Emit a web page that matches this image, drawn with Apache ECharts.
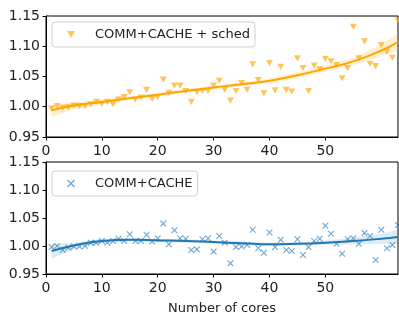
<!DOCTYPE html>
<html>
<head>
<meta charset="utf-8">
<script src="https://cdn.jsdelivr.net/npm/echarts@6/dist/echarts.min.js"></script>
<style>
  html, body { margin: 0; padding: 0; background: #fff; }
  #main { width: 399px; height: 316px; }
</style>
</head>
<body>
<div id="main"></div>
<script>
  // 核数
  var cores = [1,2,3,4,5,6,7,8,9,10,11,12,13,14,15,16,17,18,19,20,21,22,23,24,25,26,27,28,29,30,31,32,
    33,34,35,36,37,38,39,40,41,42,43,44,45,46,47,48,49,50,51,52,53,54,55,56,57,58,59,60,61,62,63];

  // COMM+CACHE + sched 散点
  var schedVals = [0.997,1.001,0.998,0.999,1.002,1.001,1.001,1.004,1.008,1.005,1.008,1.004,1.012,1.016,1.024,1.012,
    1.015,1.028,1.013,1.016,1.045,1.023,1.035,1.035,1.026,1.008,1.024,1.026,1.026,1.035,1.043,1.028,
    1.010,1.026,1.039,1.028,1.070,1.044,1.022,1.072,1.027,1.066,1.028,1.025,1.080,1.064,1.026,1.068,
    1.062,1.079,1.075,1.069,1.047,1.064,1.132,1.080,1.108,1.071,1.067,1.102,1.091,1.081,1.143];

  // COMM+CACHE 散点
  var cacheVals = [0.998,1.000,0.993,0.997,0.999,0.999,1.000,1.006,1.006,1.009,1.006,1.009,1.013,1.009,1.021,1.009,
    1.009,1.020,1.008,1.014,1.040,1.003,1.028,1.014,1.013,0.993,0.994,1.012,1.014,0.990,1.018,1.006,
    0.969,0.998,0.999,1.002,1.029,0.996,0.988,1.024,0.998,1.011,0.993,0.991,1.012,0.984,0.998,1.009,
    1.013,1.036,1.022,1.004,0.986,1.012,1.014,1.004,1.023,1.018,0.975,1.029,0.996,1.002,1.037];

  // 拟合曲线及置信区间
  var fitX = [1,5,10,15,20,25,30,35,40,45,50,55,60,63];
  var schedFit = [0.994,1.002,1.008,1.014,1.020,1.026,1.032,1.037,1.043,1.052,1.063,1.075,1.093,1.107];
  var schedLo  = [0.983,0.996,1.004,1.011,1.017,1.023,1.029,1.034,1.039,1.047,1.058,1.069,1.083,1.093];
  var schedHi  = [1.003,1.007,1.012,1.017,1.023,1.029,1.035,1.040,1.047,1.057,1.068,1.081,1.103,1.121];
  var cacheFit = [0.991,1.001,1.009,1.011,1.010,1.009,1.007,1.005,1.003,1.004,1.006,1.009,1.013,1.016];
  var cacheLo  = [0.977,0.995,1.005,1.008,1.007,1.006,1.004,1.002,1.000,1.001,1.002,1.003,1.004,1.003];
  var cacheHi  = [1.003,1.006,1.013,1.014,1.013,1.012,1.010,1.008,1.006,1.007,1.010,1.015,1.022,1.029];

  var xTicks = [0, 10, 20, 30, 40, 50, 60];
  var yTicks = [0.95, 1.00, 1.05, 1.10, 1.15];

  var ORANGE = '#ffa500';
  var BLUE = '#1f77b4';
  var FONT = 'DejaVu Sans';
  var triDown = 'path://M0,0 L10,0 L5,8.7 Z';
  var cross = 'path://M0,1.2 L1.2,0 L5,3.8 L8.8,0 L10,1.2 L6.2,5 L10,8.8 L8.8,10 L5,6.2 L1.2,10 L0,8.8 L3.8,5 Z';

  function pairs(xs, ys) {
    return xs.map(function(x, i) { return [x, ys[i]] })
  }

  // 置信区间多边形
  function band(lo, hi, color, idx) {
    return {
      type: 'custom',
      xAxisIndex: idx,
      yAxisIndex: idx,
      silent: true,
      z: 1,
      data: [[fitX[0], lo[0]]],
      renderItem: function(params, api) {
        var pts = [];
        for (var i = 0; i < fitX.length; i++) pts.push(api.coord([fitX[i], lo[i]]));
        for (var j = fitX.length - 1; j >= 0; j--) pts.push(api.coord([fitX[j], hi[j]]));
        return { type: 'polygon', shape: { points: pts }, style: { fill: color } };
      }
    }
  }

  function xAxis(idx, withName) {
    var ax = {
      type: 'value', gridIndex: idx, min: 0, max: 63, interval: 10,
      axisLine: { show: true, onZero: false, lineStyle: { color: '#000', width: 1 } },
      axisTick: { show: true, length: 3.5, lineStyle: { color: '#000' }, customValues: xTicks },
      axisLabel: { color: '#222', fontFamily: FONT, fontSize: 14, margin: 7,
        customValues: xTicks, showMaxLabel: false },
      splitLine: { show: false }
    };
    if (withName) {
      ax.name = 'Number of cores';
      ax.nameLocation = 'middle';
      ax.nameGap = 28;
      ax.nameTextStyle = { color: '#222', fontFamily: FONT, fontSize: 13 };
    }
    return ax
  }

  function yAxis(idx) {
    return {
      type: 'value', gridIndex: idx, min: 0.95, max: 1.15, interval: 0.05,
      axisLine: { show: true, lineStyle: { color: '#000', width: 1 } },
      axisTick: { show: true, length: 3.5, lineStyle: { color: '#000' } },
      axisLabel: { color: '#222', fontFamily: FONT, fontSize: 14, margin: 6,
        formatter: function(v) { return v.toFixed(2) } },
      splitLine: { show: false }
    }
  }

  var legendBase = {
    orient: 'vertical', left: 52, itemWidth: 8, itemHeight: 8,
    padding: [6, 5, 6, 15],
    backgroundColor: '#fff', borderColor: '#d0d0d0', borderWidth: 1, borderRadius: 3,
    textStyle: { color: '#222', fontFamily: FONT, fontSize: 13, padding: [0, 0, 0, 15] }
  };

  var chart = echarts.init(document.getElementById('main'));
  var option = {
    animation: false,
    grid: [
      { left: 46, top: 16, right: 1, height: 121, show: true, borderColor: '#000', borderWidth: 1 },
      { left: 46, top: 162, right: 1, height: 121, show: true, borderColor: '#000', borderWidth: 1 }
    ],
    legend: [
      Object.assign({}, legendBase, { top: 22, data: [{ name: 'COMM+CACHE + sched', icon: triDown }] }),
      Object.assign({}, legendBase, { top: 171, data: [{ name: 'COMM+CACHE', icon: cross }] })
    ],
    xAxis: [xAxis(0, false), xAxis(1, true)],
    yAxis: [yAxis(0), yAxis(1)],
    series: [
      band(schedLo, schedHi, 'rgba(255,165,0,0.18)', 0),
      {
        name: 'COMM+CACHE + sched', type: 'scatter', xAxisIndex: 0, yAxisIndex: 0,
        symbol: triDown, symbolSize: [7, 6.2], z: 3,
        itemStyle: { color: 'rgba(255,165,0,0.8)' },
        data: pairs(cores, schedVals)
      },
      {
        type: 'line', xAxisIndex: 0, yAxisIndex: 0, smooth: true, symbol: 'none', z: 4,
        lineStyle: { color: ORANGE, width: 2 }, data: pairs(fitX, schedFit)
      },
      band(cacheLo, cacheHi, 'rgba(31,119,180,0.15)', 1),
      {
        name: 'COMM+CACHE', type: 'scatter', xAxisIndex: 1, yAxisIndex: 1,
        symbol: cross, symbolSize: 6.5, z: 3,
        itemStyle: { color: 'rgba(31,119,180,0.8)' },
        data: pairs(cores, cacheVals)
      },
      {
        type: 'line', xAxisIndex: 1, yAxisIndex: 1, smooth: true, symbol: 'none', z: 4,
        lineStyle: { color: BLUE, width: 2 }, data: pairs(fitX, cacheFit)
      }
    ]
  };
  chart.setOption(option);
</script>
</body>
</html>
